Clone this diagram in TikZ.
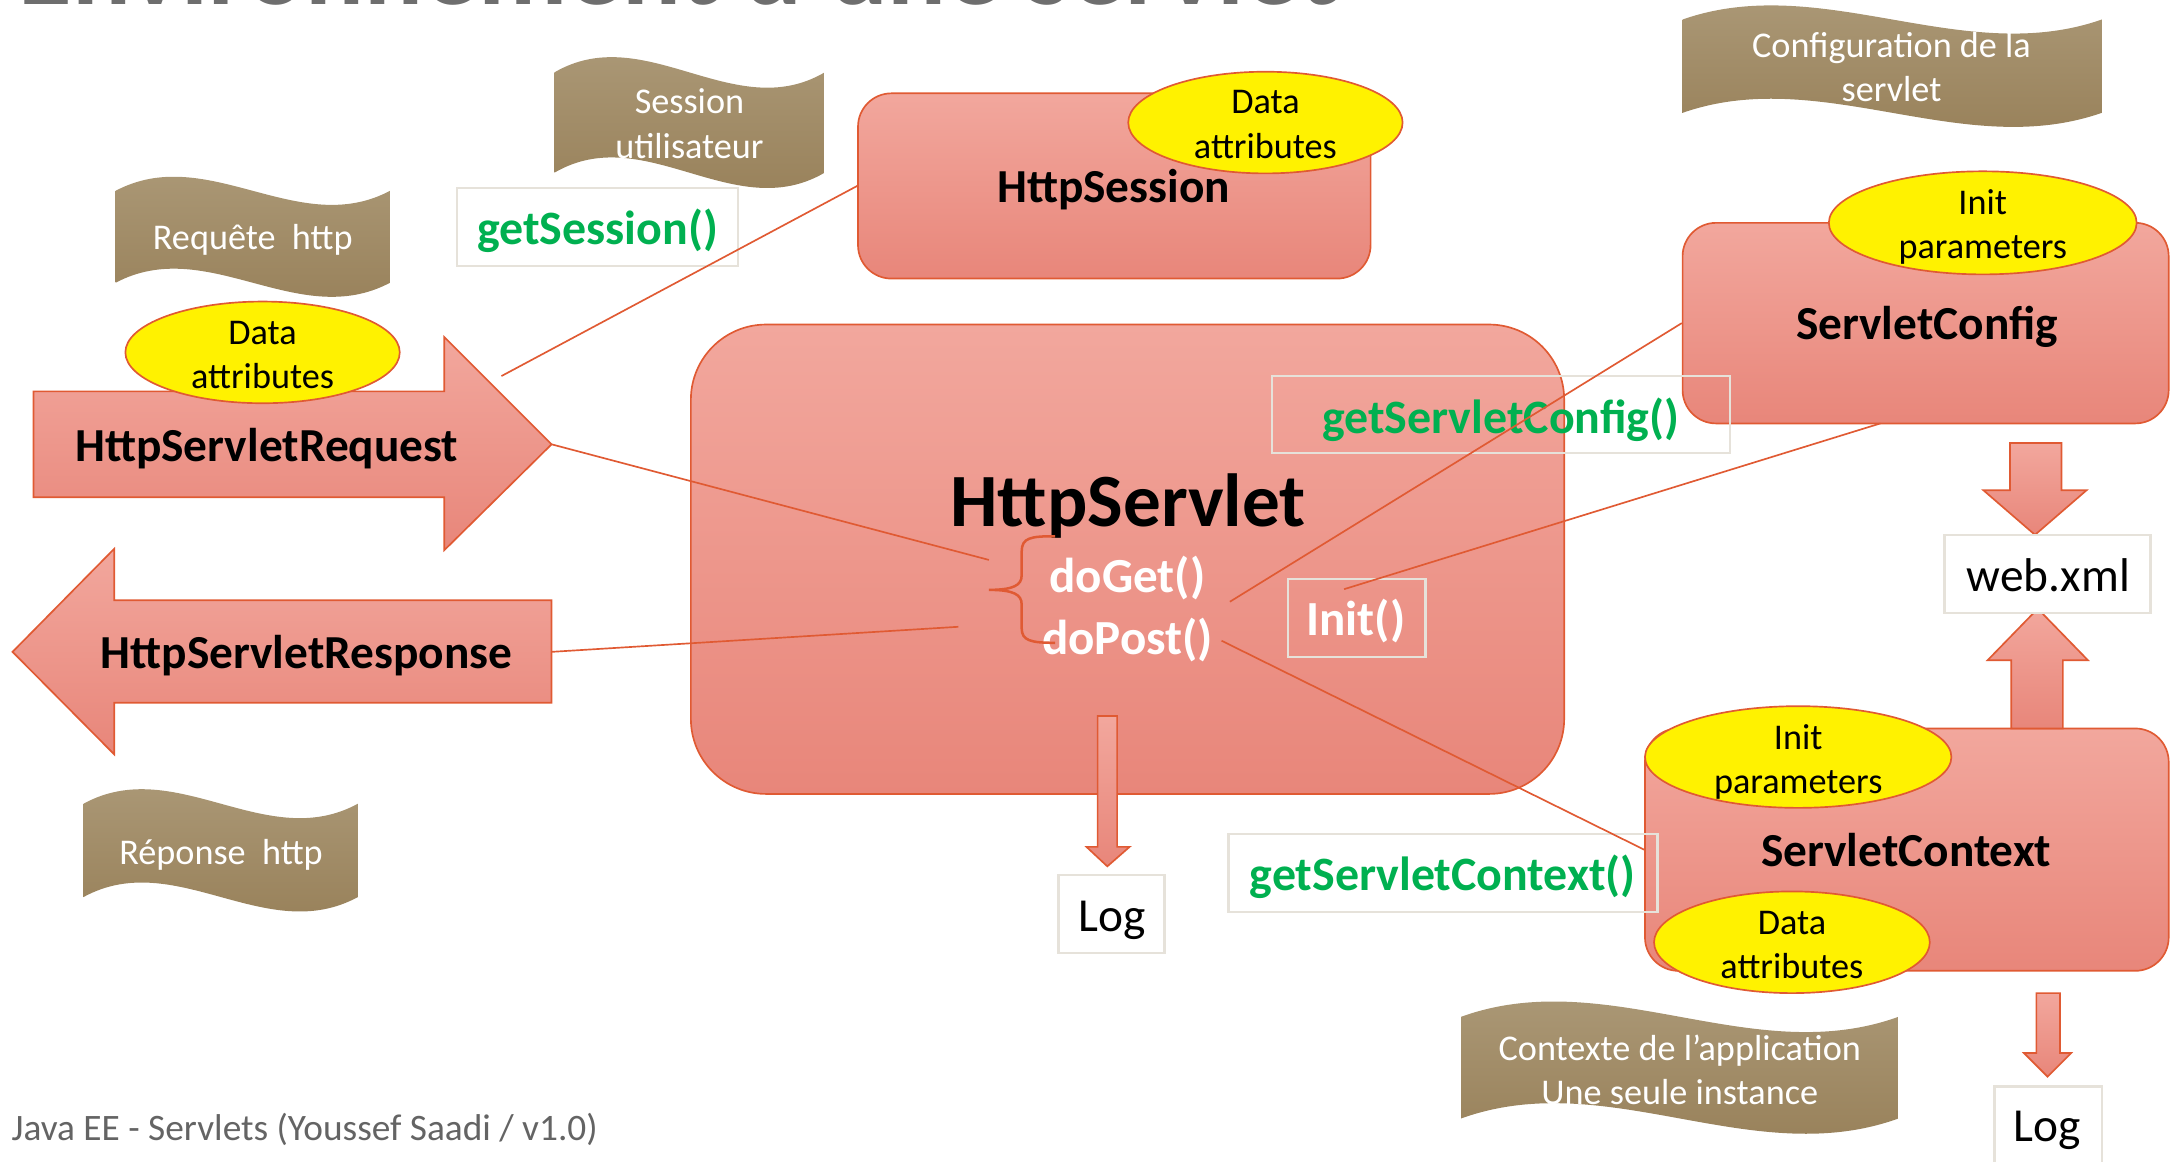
\documentclass[tikz,border=0pt]{standalone}
\usepackage{fontspec}
\setmainfont{Carlito}
\usetikzlibrary{shapes.geometric}
\definecolor{pinktop}{HTML}{F2A79D}
\definecolor{pinkbot}{HTML}{E8867A}
\definecolor{edgeclr}{HTML}{E05A33}
\definecolor{wavetop}{HTML}{AE9C7B}
\definecolor{wavebot}{HTML}{957D55}
\definecolor{lblborder}{HTML}{E6E2DA}
\definecolor{methgreen}{HTML}{00B050}
\definecolor{titlegray}{HTML}{6E6E6E}
\definecolor{footgray}{HTML}{646464}
\newcommand{\fsz}[2]{\fontsize{#1}{#2}\selectfont}
\begin{document}
\begin{tikzpicture}[x=0.5pt,y=-0.5pt,
  pinkfill/.style={top color=pinktop, bottom color=pinkbot, draw=edgeclr, line width=0.6pt},
  bigbox/.style={pinkfill, rectangle, rounded corners=12pt, inner sep=0pt},
  wavefill/.style={top color=wavetop, bottom color=wavebot, draw=none},
  yell/.style={ellipse, fill=yellow, draw=edgeclr, line width=0.6pt, inner sep=0pt},
  ytxt/.style={align=center, inner sep=0pt, font=\fsz{13pt}{16pt}},
  lbl/.style={draw=lblborder, line width=0.8pt, rectangle, inner sep=0pt},
  whitelbl/.style={lbl, fill=white},
  link/.style={draw=edgeclr, line width=0.6pt},
  wavetxt/.style={text=white, font=\fsz{13pt}{16pt}, align=center, inner sep=0pt},
  boldtxt/.style={font=\bfseries\fsz{17pt}{20pt}, inner sep=0pt},
  greentxt/.style={text=methgreen, font=\bfseries\fsz{17.2pt}{20pt}, inner sep=0pt},
  methtxt/.style={text=white, font=\bfseries\fsz{17.6pt}{20pt}, inner sep=0pt},
  plaintxt/.style={font=\fsz{17pt}{20pt}, inner sep=0pt}
]
\useasboundingbox (0,0) rectangle (1568,834);

% title (cut by the top edge)
\node[anchor=base west, inner sep=0pt, text=titlegray, font=\bfseries\fsz{39.4pt}{44pt}] (title) at (13,3) {Environnement d’une servlet};

% wave banners
\path[wavefill] (83,137) .. controls (149,102) and (214,172) .. (280,137) -- (280,203) .. controls (214,238) and (149,168) .. (83,203) -- cycle;
\path[wavefill] (398,52) .. controls (463,14) and (527,90) .. (592,52) -- (592,124) .. controls (527,162) and (463,86) .. (398,124) -- cycle;
\path[wavefill] (1208,14) .. controls (1308,-21) and (1409,49) .. (1509,14) -- (1509,81) .. controls (1409,116) and (1308,46) .. (1208,81) -- cycle;
\path[wavefill] (60,577) .. controls (126,541) and (191,613) .. (257,577) -- (257,644) .. controls (191,680) and (126,608) .. (60,644) -- cycle;
\path[wavefill] (1049,730) .. controls (1154,692) and (1258,768) .. (1363,730) -- (1363,803) .. controls (1258,841) and (1154,765) .. (1049,803) -- cycle;
\node[wavetxt, anchor=base] (wreq) at (181.5,179) {Requête~~http};
\node[wavetxt] (wsess) at (495,89) {Session\\utilisateur};
\node[wavetxt] (wcfg) at (1358,48) {Configuration de la\\servlet};
\node[wavetxt, anchor=base] (wresp) at (158.7,620.5) {Réponse~~http};
\node[wavetxt] (wctx) at (1206,768) {Contexte de l’application\\Une seule instance};

% main boxes
\node[bigbox, minimum width=184pt, minimum height=66.5pt] (sess) at (800,133.5) {};
\node[bigbox, rounded corners=27pt, minimum width=313.5pt, minimum height=168.5pt] (servlet) at (809.5,401.5) {};
\node[bigbox, minimum width=174.5pt, minimum height=72pt] (cfg) at (1382.5,232) {};
\node[bigbox, minimum width=188pt, minimum height=87pt] (ctx) at (1369,610) {};

% request / response block arrows
\path[pinkfill] (24,281) -- (319,281) -- (319,242) -- (396,319) -- (319,395) -- (319,357) -- (24,357) -- cycle;
\coordinate (reqtip) at (396,319);
\path[pinkfill] (396,431) -- (82,431) -- (82,394) -- (9,468) -- (82,541.6) -- (82,504.5) -- (396,504.5) -- cycle;
\coordinate (resend) at (396,468);

% small block arrows
\path[pinkfill] (788,514) -- (802,514) -- (802,608) -- (811,608) -- (795,622) -- (780,608) -- (788,608) -- cycle;
\path[pinkfill] (1443,318) -- (1480,318) -- (1480,352) -- (1498,352) -- (1461,384) -- (1424,352) -- (1443,352) -- cycle;
\path[pinkfill] (1444,523) -- (1444,474) -- (1427,474) -- (1463,437) -- (1499,474) -- (1481,474) -- (1481,523) -- cycle;
\path[pinkfill] (1462,713) -- (1479,713) -- (1479,756) -- (1487,756) -- (1470,773) -- (1453,756) -- (1462,756) -- cycle;

% yellow ellipses
\node[yell, minimum width=98.5pt, minimum height=36.5pt] (reqdata) at (188.5,253) {};
\node[yell, minimum width=98.5pt, minimum height=36.5pt] (sessdata) at (908.5,88) {};
\node[yell, minimum width=110.5pt, minimum height=37pt] (cfginit) at (1423.5,160) {};
\node[yell, minimum width=110pt, minimum height=36.5pt] (ctxinit) at (1291,543.5) {};
\node[yell, minimum width=99pt, minimum height=36.5pt] (ctxdata) at (1286.5,676.5) {};
\node[ytxt] (reqdataT) at (188.5,255) {Data\\attributes};
\node[ytxt] (sessdataT) at (908.5,89.5) {Data\\attributes};
\node[ytxt] (cfginitT) at (1423.5,163) {Init\\parameters};
\node[ytxt] (ctxinitT) at (1291,547) {Init\\parameters};
\node[ytxt] (ctxdataT) at (1286.5,678.5) {Data\\attributes};

% label boxes
\node[lbl, minimum width=101pt, minimum height=28pt] (gsbox) at (429,163) {};
\node[lbl, minimum width=164.5pt, minimum height=27.5pt] (gcbox) at (1077.5,297.5) {};
\node[lbl, minimum width=154pt, minimum height=28pt] (gxbox) at (1036,627) {};
\node[lbl, minimum width=49.5pt, minimum height=28pt] (initbox) at (974,443.6) {};
\node[whitelbl, minimum width=38pt, minimum height=28pt] (log1box) at (798,656) {};
\node[whitelbl, minimum width=74pt, minimum height=28pt] (webbox) at (1470,412) {};
\node[whitelbl, minimum width=38.5pt, minimum height=28pt] (log2box) at (1470.5,808) {};

% texts
\node[boldtxt, anchor=base] (reqT) at (191.5,331) {HttpServletRequest};
\node[boldtxt, anchor=base] (respT) at (220,479.6) {HttpServletResponse};
\node[boldtxt, anchor=base] (sessT) at (799.5,145.6) {HttpSession};
\node[anchor=base, inner sep=0pt, font=\bfseries\fsz{27pt}{30pt}] (servT) at (810,378) {HttpServlet};
\node[methtxt, anchor=base] (doget) at (809.5,425.5) {doGet()};
\node[methtxt, anchor=base] (dopost) at (809.5,470) {doPost()};
\node[boldtxt, anchor=base] (cfgT) at (1383.5,244) {ServletConfig};
\node[boldtxt, anchor=base] (ctxT) at (1368.5,622) {ServletContext};
\node[greentxt, anchor=base] (gsT) at (429,175.6) {getSession()};
\node[greentxt, anchor=base] (gcT) at (1077.5,311.2) {getServletConfig()};
\node[greentxt, anchor=base] (gxT) at (1035.8,639.6) {getServletContext()};
\node[methtxt, anchor=base] (initT) at (973.5,456.5) {Init()};
\node[plaintxt, anchor=base] (log1T) at (798.5,668.7) {Log};
\node[plaintxt, anchor=base] (webT) at (1470.6,424.6) {web.xml};
\node[plaintxt, anchor=base] (log2T) at (1470,819.5) {Log};

% footer
\node[anchor=base west, inner sep=0pt, text=footgray, font=\fsz{13.4pt}{16pt}] (footer) at (8,819) {Java EE - Servlets (Youssef Saadi / v1.0)};

% brace
\coordinate (bracetip) at (710,423.5);
\draw[draw=edgeclr, line width=0.9pt] (757.5,385) .. controls (740,385) and (733.5,386) .. (733.5,396) -- (733.5,413) .. controls (733.5,420) and (728,423.5) .. (bracetip) .. controls (728,423.5) and (733.5,427) .. (733.5,434) -- (733.5,451) .. controls (733.5,460) and (740,461.5) .. (757.5,461.5);

% connectors
\coordinate (c1end) at (360,270);
\coordinate (c2end) at (710,402);
\coordinate (c3end) at (688,450);
\coordinate (getE) at (883,432);
\coordinate (initpt) at (965,423);
\coordinate (cfgB) at (1350,304);
\coordinate (postE) at (877,460);
\draw[link] (sess.west) -- (c1end);
\draw[link] (reqtip) -- (c2end);
\draw[link] (resend) -- (c3end);
\draw[link] (getE) -- (cfg.west);
\draw[link] (initpt) -- (cfgB);
\draw[link] (postE) -- (ctx.west);
\end{tikzpicture}
\end{document}
